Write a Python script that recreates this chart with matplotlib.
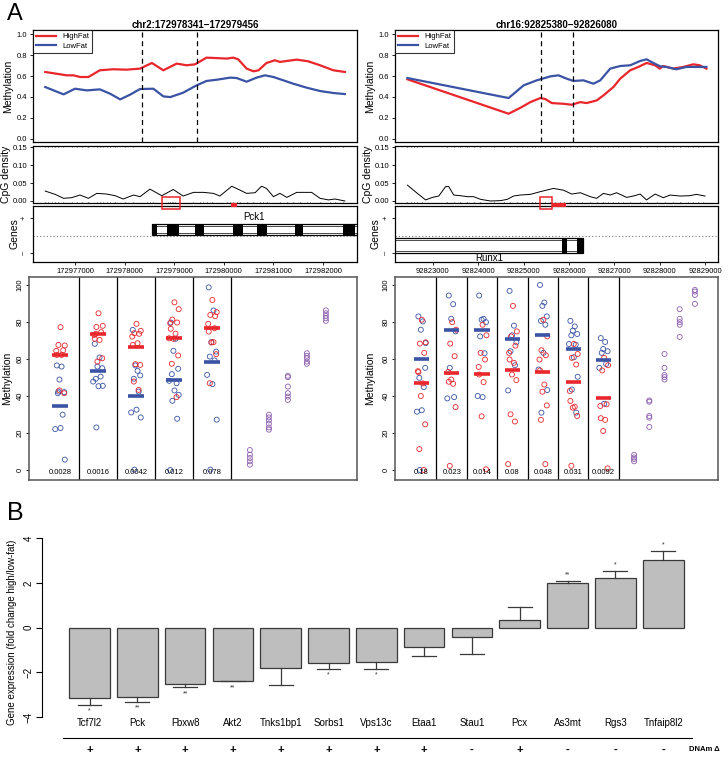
import numpy as np
import matplotlib
matplotlib.use("Agg")
import matplotlib.pyplot as plt
from matplotlib.patches import Rectangle
from matplotlib.transforms import blended_transform_factory

plt.rcParams['font.family'] = ['Liberation Sans', 'DejaVu Sans']

RED = '#e8262b'
BLUE = '#3a53a4'
PURPLE = '#8e5fb0'

# ---------------- panel A, left region (chr2, Pck1) ----------------
L_title = "chr2:172978341\u2212172979456"
L_dmr = [172978341, 172979456]
L_xlim = [172976153, 172982685]
L_xticks = [172977000, 172978000, 172979000, 172980000, 172981000, 172982000]
L_red_pos = [172976400, 172976830, 172976970, 172977100, 172977270, 172977500, 172977770,
             172978040, 172978310, 172978550, 172978780, 172979050, 172979250, 172979420,
             172979650, 172980060, 172980190, 172980290, 172980460, 172980600, 172980700,
             172980860, 172981030, 172981130, 172981270, 172981470, 172981700, 172981940,
             172982210, 172982440]
L_red_val = [0.639, 0.607, 0.607, 0.591, 0.591, 0.655, 0.665, 0.661, 0.671, 0.725, 0.655,
             0.719, 0.703, 0.712, 0.776, 0.767, 0.776, 0.760, 0.671, 0.645, 0.655, 0.725,
             0.751, 0.735, 0.744, 0.757, 0.741, 0.703, 0.655, 0.639]
L_blue_pos = [172976400, 172976600, 172976770, 172977000, 172977240, 172977500, 172977710,
              172977910, 172978110, 172978310, 172978580, 172978780, 172978920, 172979180,
              172979450, 172979650, 172979860, 172980130, 172980260, 172980460, 172980660,
              172980830, 172981000, 172981200, 172981400, 172981670, 172981940, 172982210,
              172982440]
L_blue_val = [0.495, 0.457, 0.425, 0.479, 0.463, 0.473, 0.431, 0.377, 0.422, 0.476, 0.479,
              0.406, 0.399, 0.441, 0.511, 0.553, 0.565, 0.585, 0.581, 0.546, 0.585, 0.607,
              0.591, 0.559, 0.527, 0.489, 0.457, 0.438, 0.428]
L_cpg_pos = [172976400, 172976600, 172976770, 172976930, 172977100, 172977270, 172977440,
             172977640, 172977810, 172977970, 172978180, 172978310, 172978510, 172978750,
             172978980, 172979180, 172979390, 172979590, 172979790, 172979920, 172980160,
             172980330, 172980460, 172980630, 172980760, 172980860, 172981000, 172981130,
             172981270, 172981470, 172981770, 172981940, 172982110, 172982240, 172982440]
L_cpg_val = [0.0276, 0.0184, 0.0074, 0.0092, 0.0166, 0.0074, 0.0212, 0.0193, 0.0147, 0.0055,
             0.0166, 0.012, 0.033, 0.0147, 0.032, 0.0138, 0.024, 0.024, 0.0212, 0.0138, 0.041,
             0.030, 0.0212, 0.023, 0.041, 0.035, 0.012, 0.0212, 0.010, 0.024, 0.024, 0.0074,
             0.003, 0.0055, 0.0]
L_rug = [172976395, 172976462, 172976530, 172976597, 172976664, 172976765, 172976933,
         172977034, 172977134, 172977269, 172977437, 172977504, 172977571, 172977638,
         172977706, 172977806, 172978008, 172978176, 172978445, 172978512, 172978579,
         172978882, 172978915, 172978949, 172978982, 172979016, 172979386, 172979520,
         172979587, 172979654, 172979755, 172980058, 172980125, 172980192, 172980259,
         172980326, 172980461, 172980595, 172980730, 172980797, 172980864, 172981133,
         172981267, 172981402, 172981536, 172981670, 172981738, 172981939, 172982141,
         172982242, 172982410]
L_box = [172978754, 172979117]
L_mark = [172980140, 172980250]
L_gene = "Pck1"
L_gene_span = [172978552, 172982900]
L_exons = [(172978558, 172978647), (172978848, 172979097), (172979419, 172979600),
           (172980192, 172980394), (172980662, 172980864), (172981435, 172981602),
           (172982408, 172982644)]
L_strand = 1

# ---------------- panel A, right region (chr16, Runx1) ----------------
R_title = "chr16:92825380\u221292826080"
R_dmr = [92825380, 92826080]
R_xlim = [92822165, 92829286]
R_xticks = [92823000, 92824000, 92825000, 92826000, 92827000, 92828000, 92829000]
R_red_pos = [92822440, 92824670, 92824930, 92825150, 92825370, 92825480, 92825620, 92825880,
             92826060, 92826250, 92826390, 92826610, 92826760, 92826980, 92827130, 92827350,
             92827530, 92827710, 92827900, 92828000, 92828080, 92828300, 92828520, 92828740,
             92828880, 92829030]
R_red_val = [0.569, 0.240, 0.297, 0.351, 0.390, 0.380, 0.342, 0.335, 0.326, 0.351, 0.342,
             0.367, 0.415, 0.495, 0.575, 0.655, 0.687, 0.725, 0.703, 0.671, 0.696, 0.671,
             0.687, 0.712, 0.703, 0.671]
R_blue_pos = [92822440, 92824670, 92825000, 92825290, 92825590, 92825770, 92825950, 92826100,
              92826320, 92826540, 92826690, 92826910, 92827130, 92827350, 92827570, 92827710,
              92827860, 92828010, 92828150, 92828370, 92828590, 92828810, 92829030]
R_blue_val = [0.581, 0.390, 0.511, 0.559, 0.597, 0.607, 0.575, 0.553, 0.559, 0.527, 0.559,
              0.671, 0.696, 0.703, 0.744, 0.760, 0.725, 0.693, 0.687, 0.665, 0.687, 0.687,
              0.687]
R_cpg_pos = [92822440, 92822660, 92822840, 92822990, 92823130, 92823280, 92823350, 92823460,
             92823610, 92823760, 92823900, 92824050, 92824270, 92824490, 92824640, 92824780,
             92824930, 92825150, 92825370, 92825660, 92825880, 92826060, 92826250, 92826470,
             92826610, 92826760, 92826910, 92827050, 92827270, 92827420, 92827570, 92827710,
             92827900, 92828080, 92828230, 92828450, 92828660, 92828810, 92829000]
R_cpg_val = [0.044, 0.021, 0.003, 0.010, 0.0138, 0.040, 0.040, 0.0166, 0.0147, 0.012, 0.012,
             0.0046, 0.0, 0.001, 0.0046, 0.0138, 0.0166, 0.0184, 0.026, 0.035, 0.030, 0.0193,
             0.023, 0.012, 0.0074, 0.0212, 0.0166, 0.023, 0.010, 0.0138, 0.0193, 0.003,
             0.0193, 0.0092, 0.0166, 0.0138, 0.0147, 0.0184, 0.0138]
R_rug = [92822436, 92822510, 92822583, 92822656, 92822766, 92823316, 92823462, 92823609,
         92823755, 92823902, 92824048, 92824342, 92824561, 92824708, 92824854, 92824964,
         92825074, 92825184, 92825257, 92825367, 92825477, 92825587, 92825697, 92825807,
         92825880, 92826027, 92826173, 92826283, 92826466, 92826613, 92826759, 92826869,
         92826979, 92827089, 92827199, 92827346, 92827565, 92827712, 92827932, 92828115,
         92828298, 92828445, 92828628, 92828738, 92828848, 92828958]
R_box = [92825352, 92825616]
R_mark = [92825616, 92825923]
R_gene = "Runx1"
R_gene_span = [92821500, 92826319]
R_exons = [(92825843, 92825953), (92826187, 92826319)]
R_strand = -1

# ---------------- lower strip charts ----------------
L_red = [[77.2, 67.3, 67.6, 64.7, 64.4, 62.2, 62.2, 43.0, 41.5],
         [84.7, 77.9, 77.3, 74.5, 73.0, 70.9, 70.3, 58.6, 60.4, 73.6],
         [79.0, 75.2, 73.9, 73.6, 72.1, 67.6, 68.5, 57.2, 56.8, 47.8, 43.3],
         [90.6, 86.9, 81.3, 79.7, 79.3, 76.3, 73.7, 70.9, 61.9, 57.4, 39.4, 71.2],
         [91.9, 85.3, 83.8, 83.1, 79.0, 74.8, 69.1, 68.9, 62.6, 46.9, 76.6]]
L_blue = [[56.5, 55.9, 48.9, 42.1, 41.5, 29.9, 22.1, 22.7, 5.6, 42.4],
          [68.2, 60.8, 55.9, 55.0, 49.3, 50.5, 47.8, 45.3, 45.5, 23.0],
          [75.7, 53.6, 56.5, 51.1, 49.3, 42.4, 31.1, 32.6, 28.4, 0.2],
          [79.7, 70.9, 64.4, 54.7, 51.8, 46.9, 48.2, 43.0, 40.6, 37.4, 27.7, 0.0],
          [98.7, 86.2, 69.1, 64.0, 61.3, 59.2, 51.4, 46.4, 27.2, 0.2]]
L_red_mean = [62.2, 73.4, 66.7, 71.6, 76.8]
L_blue_mean = [34.7, 53.4, 40.1, 48.7, 58.3]
L_p = ["0.0028", "0.0016", "0.0042", "0.012", "0.078"]
L_ctrl = [[10.8, 8.3, 6.5, 4.7, 2.9], [29.9, 28.4, 26.8, 25.0, 23.0, 21.8],
          [50.9, 50.2, 45.1, 41.5, 39.7, 37.9], [63.1, 61.7, 60.4, 58.6, 57.4],
          [86.3, 84.7, 83.3, 82.0, 80.6]]

R_red = [[81.2, 69.0, 68.3, 63.3, 53.4, 52.9, 46.8, 40.0, 24.7, 11.3, 0.0],
         [79.9, 75.8, 68.3, 61.5, 53.0, 47.7, 46.6, 48.9, 34.0, 2.2],
         [78.5, 72.8, 63.3, 59.7, 55.7, 51.6, 47.5, 29.0, 0.4],
         [88.7, 74.9, 72.2, 67.2, 63.3, 59.7, 57.9, 51.6, 48.6, 30.1, 26.2, 3.2],
         [81.2, 72.2, 64.7, 62.0, 59.7, 53.8, 46.2, 42.3, 34.9, 27.1, 3.2],
         [68.1, 62.7, 60.6, 57.0, 42.7, 37.3, 34.2, 33.7, 29.2, 2.3],
         [60.6, 56.6, 53.8, 35.5, 34.6, 28.0, 27.1, 21.1, 0.9]]
R_blue = [[83.0, 80.3, 75.8, 55.2, 49.8, 44.8, 31.5, 32.3, 68.6, 0.0],
          [94.3, 89.6, 81.7, 74.9, 55.2, 39.4, 38.7],
          [94.3, 81.7, 81.2, 79.9, 72.2, 63.1, 40.0, 39.4],
          [96.8, 78.0, 72.8, 69.0, 64.2, 56.6, 43.0],
          [100.0, 90.5, 88.7, 83.0, 80.6, 78.5, 54.3, 63.3, 43.2, 31.0],
          [80.6, 77.6, 75.3, 73.5, 72.8, 67.7, 68.1, 60.9, 50.4, 43.5, 31.0],
          [71.3, 69.2, 65.4, 64.2, 63.3, 57.3, 55.2, 35.8]]
R_red_mean = [46.8, 52.5, 52.0, 53.8, 53.2, 47.3, 39.1]
R_blue_mean = [60.0, 75.8, 75.8, 70.6, 73.1, 65.4, 59.3]
R_p = ["0.18", "0.023", "0.014", "0.08", "0.048", "0.031", "0.0092"]
R_ctrl = [[8.2, 6.8, 5.9, 4.7], [37.6, 36.9, 29.2, 28.3, 23.3], [62.7, 55.2, 51.3, 50.2, 48.9],
          [86.9, 81.7, 79.9, 78.5, 71.9], [97.3, 96.4, 94.6, 89.8]]

# ---------------- panel B ----------------
genes = ["Tcf7l2", "Pck", "Fbxw8", "Akt2", "Tnks1bp1", "Sorbs1", "Vps13c", "Etaa1",
         "Stau1", "Pcx", "As3mt", "Rgs3", "Tnfaip8l2"]
fold = [-3.13, -3.12, -2.50, -2.37, -1.79, -1.60, -1.52, -0.85, -0.43, 0.35, 1.97, 2.23, 3.00]
sem = [0.32, 0.20, 0.17, 0.03, 0.76, 0.23, 0.31, 0.40, 0.77, 0.55, 0.11, 0.30, 0.43]
stars = ["*", "**", "**", "**", "", "*", "*", "", "", "", "**", "*", "*"]
dnam = ["+", "+", "+", "+", "+", "+", "+", "+", "-", "+", "-", "-", "-"]

JITTER = np.array([-0.6, 0.3, -0.1, 0.8, -0.4, 0.5, -0.9, 0.1, 0.9, -0.3, 0.6, -0.7])

W, H = 728, 762
fig = plt.figure(figsize=(W / 100, H / 100), dpi=100)


def px_axes(x0, y0, x1, y1):
    return fig.add_axes([x0 / W, 1 - y1 / H, (x1 - x0) / W, (y1 - y0) / H])


def style_ticks(ax):
    ax.tick_params(labelsize=5.5, length=2.5, width=0.6, pad=1.5)
    for s in ax.spines.values():
        s.set_linewidth(0.9)


def region_tracks(x0, x1, lab_x, title, dmr, xlim, xticks, red_pos, red_val, blue_pos,
                  blue_val, cpg_pos, cpg_val, rug, box, mark, gname, gspan, exons, strand):
    w = x1 - x0
    # methylation track
    ax = px_axes(x0, 30, x1, 142)
    ax.plot(red_pos, red_val, color=RED, lw=1.6, label="HighFat")
    ax.plot(blue_pos, blue_val, color=BLUE, lw=1.6, label="LowFat")
    for d in dmr:
        ax.axvline(d, color='black', lw=0.9, ls=(0, (4, 3)))
    ax.set_xlim(xlim)
    ax.set_ylim(-0.03, 1.04)
    ax.set_yticks(np.arange(0, 1.01, 0.2))
    ax.set_yticklabels([f"{v:.1f}" for v in np.arange(0, 1.01, 0.2)])
    ax.set_xticks([])
    style_ticks(ax)
    ax.set_title(title, fontsize=7, fontweight='bold', pad=1.5)
    ax.set_ylabel("Methylation", fontsize=7.5)
    ax.yaxis.set_label_coords((lab_x - x0) / w, 0.5)
    leg = ax.legend(loc='upper left', fontsize=5.5, fancybox=False, edgecolor='black',
                    borderaxespad=0.0, handlelength=2.6, borderpad=0.4, labelspacing=0.25)
    leg.get_frame().set_linewidth(0.8)

    # CpG density track
    ac = px_axes(x0, 146, x1, 203)
    ac.plot(cpg_pos, cpg_val, color='black', lw=0.7)
    ac.vlines(rug, -0.0056, -0.0015, color='black', lw=0.5)
    ac.vlines(rug, 0.149, 0.153, color='black', lw=0.5)
    ac.set_xlim(xlim)
    ac.set_ylim(-0.0056, 0.153)
    ac.set_yticks([0, 0.05, 0.10, 0.15])
    ac.set_yticklabels(["0.00", "0.05", "0.10", "0.15"])
    ac.set_xticks([])
    style_ticks(ac)
    ac.set_ylabel("CpG density", fontsize=7.5)
    ac.yaxis.set_label_coords((lab_x - 2 - x0) / w, 0.5)

    # gene track
    ag = px_axes(x0, 206, x1, 262)
    ag.axhline(0, color='#777777', lw=0.8, ls=(0, (1, 2)))
    if strand > 0:
        y0, y1 = 0.06, 0.69
        ty = 1.08
    else:
        y0, y1 = -0.97, -0.11
        ty = -1.28
    ag.add_patch(Rectangle((gspan[0], y0), gspan[1] - gspan[0], y1 - y0,
                           facecolor='white', edgecolor='black', lw=0.9))
    ins = 0.12
    ag.add_patch(Rectangle((gspan[0], y0 + ins), gspan[1] - gspan[0], y1 - y0 - 2 * ins,
                           facecolor='none', edgecolor='black', lw=0.5))
    for e0, e1 in exons:
        ag.add_patch(Rectangle((e0, y0), e1 - e0, y1 - y0, facecolor='black', edgecolor='none'))
    mid = (max(gspan[0], xlim[0]) + min(gspan[1], xlim[1])) / 2
    ag.text(mid, ty, gname, fontsize=7, ha='center', va='center')
    ag.set_xlim(xlim)
    ag.set_ylim(-1.5, 1.7)
    ag.set_yticks([1, -1])
    ag.set_yticklabels(["+", "\u2013"], rotation=90, va='center')
    ag.set_xticks(xticks)
    ag.set_xticklabels([str(t) for t in xticks])
    style_ticks(ag)
    ag.set_ylabel("Genes", fontsize=7.5)
    ag.yaxis.set_label_coords((lab_x + 6 - x0) / w, 0.5)

    # red markers of the assayed amplicon
    tr = blended_transform_factory(ac.transData, ac.transAxes)
    fig.add_artist(Rectangle((box[0], -0.11), box[1] - box[0], 0.22, transform=tr,
                             facecolor='none', edgecolor=RED, lw=1.1, zorder=5))
    fig.add_artist(Rectangle((mark[0], -0.045), mark[1] - mark[0], 0.05, transform=tr,
                             facecolor=RED, edgecolor=RED, lw=0.8, zorder=5))


def strip_chart(x0, x1, lab_x, xlim, red, blue, rmean, bmean, pvals, ctrl, jit, half):
    ax = px_axes(x0, 277, x1, 480)
    n = len(red)
    for i in range(n):
        c = i + 1
        xb = c + jit * np.resize(JITTER, len(blue[i]))
        xr = c + jit * np.resize(np.roll(JITTER, 5), len(red[i]))
        ax.scatter(xb, blue[i], s=13, facecolors='none', edgecolors=BLUE, linewidths=0.6)
        ax.scatter(xr, red[i], s=13, facecolors='none', edgecolors=RED, linewidths=0.6)
        ax.plot([c - half, c + half], [rmean[i]] * 2, color=RED, lw=2.6, solid_capstyle='butt')
        ax.plot([c - half, c + half], [bmean[i]] * 2, color=BLUE, lw=2.6, solid_capstyle='butt')
        ax.text(c, -1.2, pvals[i], fontsize=5.5, ha='center', va='center')
        ax.axvline(c + 0.5, color='black', lw=0.9)
    for j, vals in enumerate(ctrl):
        ax.scatter([n + 1 + 0.5 * j] * len(vals), vals, s=13, facecolors='none',
                   edgecolors=PURPLE, linewidths=0.6)
    ax.set_xlim(xlim)
    ax.set_ylim(-5.4, 104.3)
    ax.set_xticks([])
    ax.set_yticks(np.arange(0, 101, 20))
    for lab in ax.get_yticklabels():
        lab.set_rotation(90)
        lab.set_va('center')
    ax.tick_params(labelsize=5.5, length=2.5, width=0.6, pad=1.5)
    for s in ax.spines.values():
        s.set_linewidth(1.1)
        s.set_color('#555555')
    ax.set_ylabel("Methylation", fontsize=7.5)
    ax.yaxis.set_label_coords((lab_x - x0) / (x1 - x0), 0.5)


region_tracks(33, 357, 13, L_title, L_dmr, L_xlim, L_xticks, L_red_pos, L_red_val, L_blue_pos,
              L_blue_val, L_cpg_pos, L_cpg_val, L_rug, L_box, L_mark, L_gene, L_gene_span,
              L_exons, L_strand)
region_tracks(395, 718, 375, R_title, R_dmr, R_xlim, R_xticks, R_red_pos, R_red_val, R_blue_pos,
              R_blue_val, R_cpg_pos, R_cpg_val, R_rug, R_box, R_mark, R_gene, R_gene_span,
              R_exons, R_strand)
strip_chart(29, 357, 12, (0.184, 8.82), L_red, L_blue, L_red_mean, L_blue_mean, L_p, L_ctrl,
            0.14, 0.2)
strip_chart(395, 718, 375, (0.135, 10.76), R_red, R_blue, R_red_mean, R_blue_mean, R_p, R_ctrl,
            0.16, 0.25)

# ---------------- panel B bars ----------------
axb = px_axes(42, 530, 700, 720)
x = np.arange(len(genes))
ink = '#3a3a3a'
axb.bar(x, fold, width=0.85, color='#bebebe', edgecolor=ink, linewidth=0.9)
for xi, f, e, st in zip(x, fold, sem, stars):
    sgn = np.sign(f)
    end = f + sgn * e
    axb.plot([xi, xi], [f, end], color=ink, lw=0.9)
    axb.plot([xi - 0.25, xi + 0.25], [end, end], color=ink, lw=0.9)
    if st:
        axb.text(xi, end + sgn * 0.28, st, fontsize=5, ha='center', va='center', color='#333333')
for xi, g in zip(x, genes):
    axb.text(xi, -4.25, g, fontsize=7, ha='center', va='center', clip_on=False)
axb.plot([x[0] - 0.55, x[-1] + 0.6], [-4.94, -4.94], color='black', lw=0.8, clip_on=False)
for xi, s in zip(x, dnam):
    axb.text(xi, -5.47, s, fontsize=8, fontweight='bold', ha='center', va='center', clip_on=False)
axb.text(x[-1] + 0.53, -5.47, "DNAm \u0394", fontsize=5.5, fontweight='bold', ha='left',
         va='center', clip_on=False)
axb.set_xlim(-0.994, 12.77)
axb.set_ylim(-4.13, 4.36)
for side in ['top', 'right', 'bottom']:
    axb.spines[side].set_visible(False)
axb.spines['left'].set_bounds(-4, 4)
axb.spines['left'].set_linewidth(0.8)
axb.set_xticks([])
axb.set_yticks([-4, -2, 0, 2, 4])
for lab in axb.get_yticklabels():
    lab.set_rotation(90)
    lab.set_va('center')
axb.tick_params(axis='y', labelsize=7, length=4, width=0.8, pad=2)
axb.set_ylabel("Gene expression (fold change high/low-fat)", fontsize=7)
axb.yaxis.set_label_coords((17 - 42) / (700 - 42), 0.46)

fig.text(7 / W, 1 - 14 / H, "A", fontsize=17, ha='left', va='center')
fig.text(7 / W, 1 - 513 / H, "B", fontsize=18, ha='left', va='center')

fig.savefig("out.png", dpi=100)
